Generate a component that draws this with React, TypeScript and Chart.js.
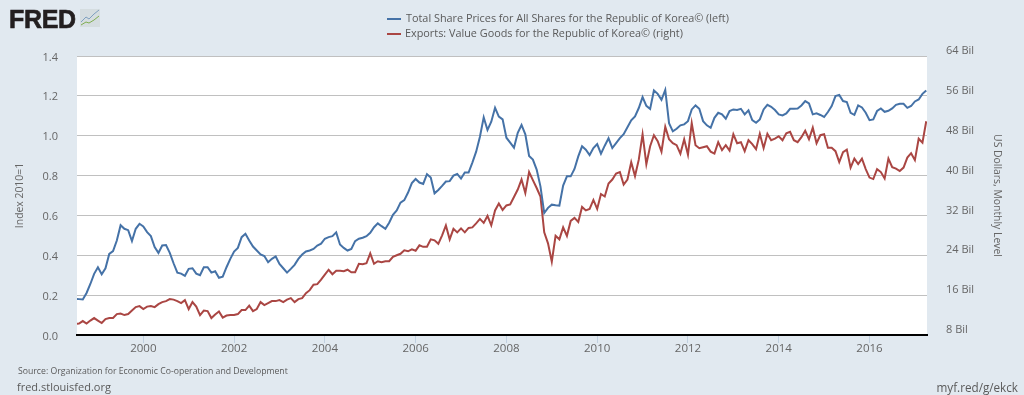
import React, { useEffect, useRef } from "react";
import { Chart, registerables } from "chart.js";

Chart.register(...registerables);

const FONT = '"Open Sans", sans-serif';
const SERIES_A = "Total Share Prices for All Shares for the Republic of Korea© (left)";
const SERIES_B = "Exports: Value Goods for the Republic of Korea© (right)";
const LEFT_TITLE = "Index 2010=1";
const RIGHT_TITLE = "US Dollars, Monthly Level";
const SOURCE = "Source: Organization for Economic Co-operation and Development";
const BLUE = "#4572a7";
const RED = "#aa4643";

// months since Jan 2000 of the first reading (Jul 1998)
const firstMonth = -18;
const yearTicks = [2000, 2002, 2004, 2006, 2008, 2010, 2012, 2014, 2016];

const sharePrices = [
  0.182, 0.18, 0.178, 0.211, 0.256, 0.307, 0.34, 0.305, 0.335, 0.407, 0.421, 0.474,
  0.551, 0.533, 0.526, 0.471, 0.533, 0.558, 0.545, 0.516, 0.496, 0.441, 0.412, 0.449,
  0.451, 0.412, 0.36, 0.313, 0.308, 0.297, 0.332, 0.335, 0.308, 0.3, 0.34, 0.34,
  0.313, 0.32, 0.287, 0.293, 0.34, 0.382, 0.419, 0.437, 0.491, 0.508, 0.474, 0.444,
  0.424, 0.404, 0.396, 0.365, 0.382, 0.394, 0.357, 0.335, 0.313, 0.332, 0.352, 0.382,
  0.404, 0.419, 0.424, 0.432, 0.449, 0.458, 0.483, 0.491, 0.496, 0.515, 0.454, 0.437,
  0.424, 0.432, 0.471, 0.483, 0.488, 0.496, 0.513, 0.541, 0.56, 0.546, 0.533, 0.563,
  0.603, 0.625, 0.664, 0.677, 0.715, 0.762, 0.783, 0.765, 0.758, 0.807, 0.79, 0.711,
  0.728, 0.748, 0.77, 0.772, 0.8, 0.808, 0.785, 0.815, 0.815, 0.865, 0.92, 0.995,
  1.092, 1.029, 1.07, 1.14, 1.096, 1.082, 0.99, 0.965, 0.94, 1.015, 1.054, 1.007,
  0.898, 0.88, 0.83, 0.746, 0.612, 0.638, 0.654, 0.651, 0.649, 0.75, 0.796, 0.796,
  0.833, 0.896, 0.947, 0.93, 0.903, 0.938, 0.958, 0.91, 0.95, 0.987, 0.938, 0.963,
  0.988, 1.008, 1.042, 1.077, 1.097, 1.139, 1.194, 1.15, 1.134, 1.227, 1.21, 1.18,
  1.23, 1.063, 1.022, 1.035, 1.052, 1.057, 1.073, 1.132, 1.152, 1.135, 1.073, 1.052,
  1.04, 1.09, 1.115, 1.107, 1.085, 1.124, 1.132, 1.129, 1.135, 1.107, 1.127, 1.078,
  1.065, 1.082, 1.132, 1.155, 1.145, 1.129, 1.107, 1.102, 1.112, 1.135, 1.135, 1.137,
  1.152, 1.174, 1.162, 1.107, 1.112, 1.104, 1.094, 1.119, 1.149, 1.199, 1.205, 1.174,
  1.169, 1.115, 1.105, 1.152, 1.142, 1.115, 1.078, 1.082, 1.124, 1.137, 1.12, 1.125,
  1.137, 1.155, 1.16, 1.16, 1.14, 1.149, 1.172, 1.182, 1.21, 1.227,
];

const exportsBil = [
  10.2, 10.3, 10.8, 10.3, 10.9, 11.4, 10.9, 10.4, 11.2, 11.4, 11.4, 12.2,
  12.3, 12.0, 12.2, 12.9, 13.6, 13.8, 13.2, 13.7, 13.8, 13.6, 14.2, 14.6,
  14.8, 15.2, 15.1, 14.8, 14.4, 15.0, 13.2, 14.6, 13.7, 12.0, 12.9, 12.8,
  11.4, 12.1, 12.7, 11.5, 11.9, 12.0, 12.0, 12.2, 13.0, 13.0, 13.9, 12.8,
  13.2, 14.6, 14.0, 14.4, 14.8, 14.8, 15.0, 14.6, 15.1, 15.4, 14.6, 15.2,
  15.4, 16.4, 17.0, 18.1, 18.2, 19.1, 20.1, 21.1, 20.2, 20.9, 20.9, 20.8,
  21.1, 20.6, 20.6, 22.3, 22.2, 22.4, 24.4, 22.3, 22.8, 22.6, 22.8, 22.8,
  23.7, 24.0, 24.3, 25.0, 24.8, 25.2, 24.9, 26.0, 25.7, 25.7, 27.2, 27.0,
  26.3, 28.0, 30.0, 27.2, 29.3, 28.6, 29.4, 28.6, 29.5, 29.6, 30.4, 31.3,
  30.5, 31.9, 30.0, 33.0, 34.4, 33.1, 34.0, 34.2, 35.7, 37.2, 39.2, 36.5,
  40.7, 39.1, 37.5, 35.8, 28.6, 26.4, 22.7, 27.9, 27.2, 29.6, 27.9, 30.9,
  31.5, 30.7, 33.7, 33.0, 33.3, 35.1, 33.3, 36.3, 35.8, 38.4, 39.2, 40.4,
  40.7, 38.2, 39.2, 42.7, 39.9, 43.2, 48.3, 42.3, 45.9, 48.1, 46.9, 44.8,
  49.8, 47.3, 46.5, 46.1, 44.4, 47.3, 44.2, 50.5, 46.1, 45.5, 45.7, 45.9,
  44.8, 44.4, 46.7, 45.1, 46.1, 45.0, 48.3, 46.5, 46.7, 44.9, 47.1, 46.3,
  45.3, 48.4, 45.5, 48.4, 47.1, 47.4, 47.9, 47.1, 48.5, 48.8, 47.1, 46.7,
  47.7, 49.0, 47.3, 49.6, 46.5, 48.1, 48.3, 45.6, 45.6, 44.9, 42.7, 44.7,
  45.2, 41.6, 43.4, 42.3, 43.4, 41.3, 39.6, 39.3, 41.3, 40.7, 39.4, 43.4,
  41.7, 41.4, 40.9, 41.6, 43.6, 44.5, 43.1, 47.4, 46.6, 50.9,
];

const toPoints = (values: number[]) =>
  values.map((y, i) => ({ x: firstMonth + i, y }));

const plotBackground = {
  id: "plotBackground",
  beforeDraw(chart: any) {
    const { ctx, chartArea: a } = chart;
    ctx.save();
    ctx.fillStyle = "#ffffff";
    ctx.fillRect(a.left, a.top, a.width, a.height);
    ctx.restore();
  },
};

const text = (style: React.CSSProperties): React.CSSProperties => ({
  position: "absolute",
  fontFamily: FONT,
  color: "#5a5a5a",
  whiteSpace: "nowrap",
  ...style,
});

export default function App() {
  const ref = useRef<HTMLCanvasElement>(null);

  useEffect(() => {
    document.body.style.margin = "0";
    document.body.style.background = "#e1e9f0";
    const chart = new Chart(ref.current!, {
      type: "line",
      data: {
        datasets: [
          {
            label: SERIES_A,
            data: toPoints(sharePrices),
            borderColor: BLUE,
            backgroundColor: BLUE,
            borderWidth: 2,
            pointRadius: 0,
            tension: 0,
            yAxisID: "y",
          },
          {
            label: SERIES_B,
            data: toPoints(exportsBil),
            borderColor: RED,
            backgroundColor: RED,
            borderWidth: 2,
            pointRadius: 0,
            tension: 0,
            yAxisID: "y1",
          },
        ],
      },
      options: {
        animation: false,
        responsive: false,
        maintainAspectRatio: false,
        layout: { padding: { top: 56, left: 0, right: 0, bottom: 0 } },
        plugins: { legend: { display: false }, tooltip: { enabled: false } },
        scales: {
          x: {
            type: "linear",
            min: -17.53,
            max: 207.2,
            afterBuildTicks(axis: any) {
              axis.ticks = yearTicks.map((yr) => ({ value: (yr - 2000) * 12 }));
            },
            afterFit(axis: any) {
              axis.height = 60;
            },
            grid: {
              drawOnChartArea: false,
              drawTicks: true,
              tickLength: 8,
              tickColor: "#c0d0e0",
            },
            border: { display: true, color: "#000000", width: 2 },
            ticks: {
              autoSkip: false,
              maxRotation: 0,
              padding: -1,
              color: "#666",
              font: { family: FONT, size: 11.5 },
              callback: (v: any) => String(2000 + Number(v) / 12),
            },
          },
          y: {
            type: "linear",
            position: "left",
            min: 0,
            max: 1.4,
            afterFit(axis: any) {
              axis.width = 77;
            },
            grid: { color: "#c0c0c0", lineWidth: 1, drawTicks: false },
            border: { display: false },
            title: {
              display: true,
              text: LEFT_TITLE,
              color: "#666",
              font: { family: FONT, size: 10.4 },
              padding: { top: 14, bottom: 0 },
            },
            ticks: {
              stepSize: 0.2,
              padding: 19,
              labelOffset: 1.5,
              color: "#666",
              font: { family: FONT, size: 11 },
              callback: (v: any) => Number(v).toFixed(1),
            },
          },
          y1: {
            type: "linear",
            position: "right",
            min: 8,
            max: 64,
            afterFit(axis: any) {
              axis.width = 97;
            },
            grid: { drawOnChartArea: false, drawTicks: false },
            border: { display: false },
            title: {
              display: true,
              text: RIGHT_TITLE,
              color: "#666",
              font: { family: FONT, size: 10.4 },
              padding: { top: 21, bottom: 0 },
            },
            ticks: {
              stepSize: 8,
              padding: 19,
              labelOffset: -5,
              color: "#666",
              font: { family: FONT, size: 11 },
              callback: (v: any) => `${v} Bil`,
            },
          },
        },
      },
      plugins: [plotBackground],
    } as any);
    return () => chart.destroy();
  }, []);

  return (
    <div style={{ position: "relative", width: 1024, height: 395, overflow: "hidden", background: "#e1e9f0" }}>
      <canvas ref={ref} width={1024} height={395} style={{ display: "block" }} />
      <div style={text({ left: 9, top: 5, fontFamily: '"Liberation Sans", sans-serif', fontWeight: 700, fontSize: 25, lineHeight: "28px", color: "#231f20", WebkitTextStroke: "0.6px #231f20", letterSpacing: -0.3 })}>
        FRED
      </div>
      <svg width="20" height="18" viewBox="0 0 20 18" style={{ position: "absolute", left: 80, top: 9 }}>
        <rect x="0" y="0" width="20" height="18" fill="#d5dde0" />
        <polyline points="1,13 6,8 9,10 14,5 19,1" fill="none" stroke="#7fa0c0" strokeWidth="1" />
        <polyline points="1,16 6,13 9,14 14,11 19,7" fill="none" stroke="#7fae50" strokeWidth="1" />
      </svg>
      <div style={{ position: "absolute", left: 387, top: 18, width: 14, height: 2, background: BLUE }} />
      <div style={{ position: "absolute", left: 387, top: 33, width: 14, height: 2, background: RED }} />
      <div style={text({ left: 406, top: 10, fontSize: 10.85, lineHeight: "16px" })}>{SERIES_A}</div>
      <div style={text({ left: 405, top: 25, fontSize: 10.85, lineHeight: "16px" })}>{SERIES_B}</div>
      <div style={text({ left: 18, top: 364, fontSize: 8.7, lineHeight: "14px" })}>{SOURCE}</div>
      <div style={text({ left: 17, top: 379, fontSize: 11, lineHeight: "16px" })}>fred.stlouisfed.org</div>
      <div style={text({ right: 6, top: 379, fontSize: 11.7, lineHeight: "16px" })}>myf.red/g/ekck</div>
    </div>
  );
}
